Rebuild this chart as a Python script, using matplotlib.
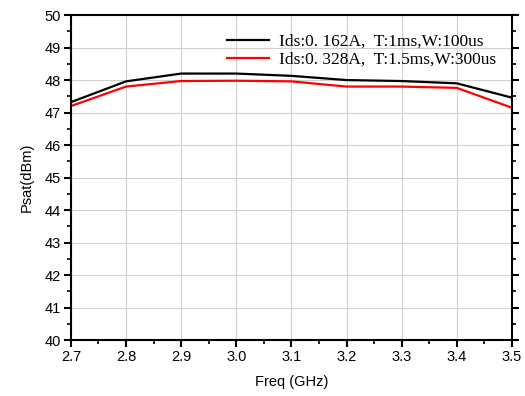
import matplotlib.pyplot as plt
import numpy as np

plt.rcParams['font.family'] = ['Liberation Sans', 'DejaVu Sans']

freq = [2.7, 2.8, 2.9, 3.0, 3.1, 3.2, 3.3, 3.4, 3.5]
psat_a = [47.32, 47.96, 48.20, 48.20, 48.13, 48.00, 47.97, 47.90, 47.46]
psat_b = [47.20, 47.80, 47.97, 47.98, 47.96, 47.80, 47.80, 47.76, 47.15]
label_a = 'Ids:0. 162A,  T:1ms,W:100us'
label_b = 'Ids:0. 328A,  T:1.5ms,W:300us'

fig = plt.figure(figsize=(5.25, 3.96), dpi=100)
ax = fig.add_axes([0.135, 0.141, 0.84, 0.821])

ax.plot(freq, psat_a, color='black', lw=1.6, label=label_a)
ax.plot(freq, psat_b, color='red', lw=1.6, label=label_b)

ax.set_xlim(2.7, 3.5)
ax.set_ylim(40, 50)
ax.set_xticks(np.arange(2.7, 3.51, 0.1))
ax.set_xticklabels(['%.1f' % v for v in np.arange(2.7, 3.51, 0.1)])
ax.set_yticks(range(40, 51))
ax.set_xticks(np.arange(2.75, 3.5, 0.1), minor=True)
ax.set_yticks(np.arange(40.5, 50, 1), minor=True)
ax.grid(True, which='major', color='#d0d0d0', lw=0.8)
ax.set_axisbelow(True)

for s in ax.spines.values():
    s.set_linewidth(1.5)
ax.tick_params(which='major', direction='out', length=5, width=1.5, labelsize=10.5, pad=2)
ax.tick_params(which='minor', direction='out', length=3, width=1.2)
ax.tick_params(which='both', right=True, labelright=False)

ax.set_xlabel('Freq (GHz)', fontsize=10.5, labelpad=8)
ax.set_ylabel('Psat(dBm)', fontsize=10.5, labelpad=8)

leg = ax.legend(loc='upper right', bbox_to_anchor=(1.0, 0.99), frameon=False,
                prop={'family': 'Liberation Serif', 'size': 12.5},
                handlelength=2.4, handletextpad=0.6, labelspacing=0.1)

fig.savefig('out.png', dpi=100)
